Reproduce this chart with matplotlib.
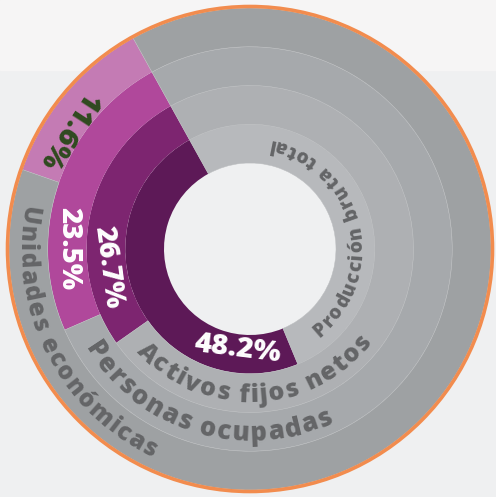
import numpy as np
import matplotlib
matplotlib.use("Agg")
import matplotlib.pyplot as plt
from matplotlib.font_manager import FontProperties
from matplotlib.patches import Circle

# --- data (inner ring -> outer ring) ---
ring_labels = ["Producción bruta total", "Activos fijos netos",
               "Personas ocupadas", "Unidades económicas"]
shares = [48.2, 26.7, 23.5, 11.6]
share_labels = ["48.2%", "26.7%", "23.5%", "11.6%"]

# --- styling ---
purples = ["#5d1957", "#7d2570", "#b0489b", "#c47bb4"]
greys = ["#b7b9bc", "#aeb0b3", "#a6a9ac", "#9ea1a3"]
pct_colors = ["white", "white", "white", "#2f4a1f"]
text_grey = "#646567"
orange = "#f28c4e"

W, H = 496, 497
cx, cy = 250, H - 249
hole = 86
ring_w = 38.75
start_angle = 119

# curved label arcs: (start angle, end angle) in degrees
ring_label_pos = [(-52, 80), (-138, -37), (-149, -64), (169, 245)]
# straight labels: (angle, radius, font size)
pct_pos = [(-97, 101, 21), (187.5, 143, 20), (180, 181, 20), (147, 217, 21)]

fig = plt.figure(figsize=(W / 100, H / 100), dpi=100)
fig.patch.set_facecolor("#eff0f1")
ax = fig.add_axes([0, 0, 1, 1])
ax.axhspan(H - 70, H, color="#f6f5f5", zorder=0)

for i, share in enumerate(shares):
    r_out = hole + ring_w * (i + 1)
    wedges, _ = ax.pie([share, 100 - share], radius=r_out, center=(cx, cy),
                       startangle=start_angle, counterclock=True,
                       colors=[purples[i], greys[i]],
                       wedgeprops=dict(width=ring_w, linewidth=0))
    wedges[1].set_edgecolor("#bcbec0")
    wedges[1].set_linewidth(0.35)
    for w in wedges:
        w.set_zorder(2)

ax.add_patch(Circle((cx, cy), hole + ring_w * 4 + 1.5, fill=False,
                    edgecolor=orange, linewidth=2.6, zorder=3))

renderer = fig.canvas.get_renderer()
track = 1.8  # px between letters


def text_width(s, prop):
    if not s:
        return 0.0
    return renderer.get_text_width_height_descent(s, prop, ismath=False)[0]


def curved_text(s, r_mid, a0, a1, color):
    # pick the font size so the label fills its arc
    fs = 14.0
    for _ in range(4):
        prop = FontProperties(family="Open Sans", weight="heavy", size=fs)
        r = r_mid + fs * 100 / 72 * 0.36
        span = np.deg2rad(a1 - a0) * r
        total = text_width(s, prop) + track * (len(s) - 1)
        fs *= span / total
    prop = FontProperties(family="Open Sans", weight="heavy", size=fs)
    r = r_mid + fs * 100 / 72 * 0.36
    th0 = np.deg2rad(a0)
    cum = 0.0
    for k, ch in enumerate(s):
        adv = text_width(s[:k + 1], prop) - text_width(s[:k], prop)
        th = th0 + (cum + adv / 2) / r
        cum += adv + track
        if ch == " ":
            continue
        ax.text(cx + r * np.cos(th), cy + r * np.sin(th), ch,
                rotation=np.rad2deg(th) + 90, rotation_mode="anchor",
                ha="center", va="baseline", fontproperties=prop,
                color=color, zorder=4)


for i, lab in enumerate(ring_labels):
    a0, a1 = ring_label_pos[i]
    r_mid = hole + ring_w * (i + 0.5)
    curved_text(lab, r_mid, a0, a1, text_grey)

for i, lab in enumerate(share_labels):
    ang, r, fs = pct_pos[i]
    th = np.deg2rad(ang)
    ax.text(cx + r * np.cos(th), cy + r * np.sin(th), lab,
            rotation=ang + 90, rotation_mode="anchor", ha="center",
            va="center", color=pct_colors[i], family="Open Sans",
            weight="heavy", fontsize=fs, zorder=4)

ax.set_xlim(0, W)
ax.set_ylim(0, H)
ax.set_aspect("equal")
ax.axis("off")
fig.savefig("out.png", dpi=100, facecolor=fig.get_facecolor())
